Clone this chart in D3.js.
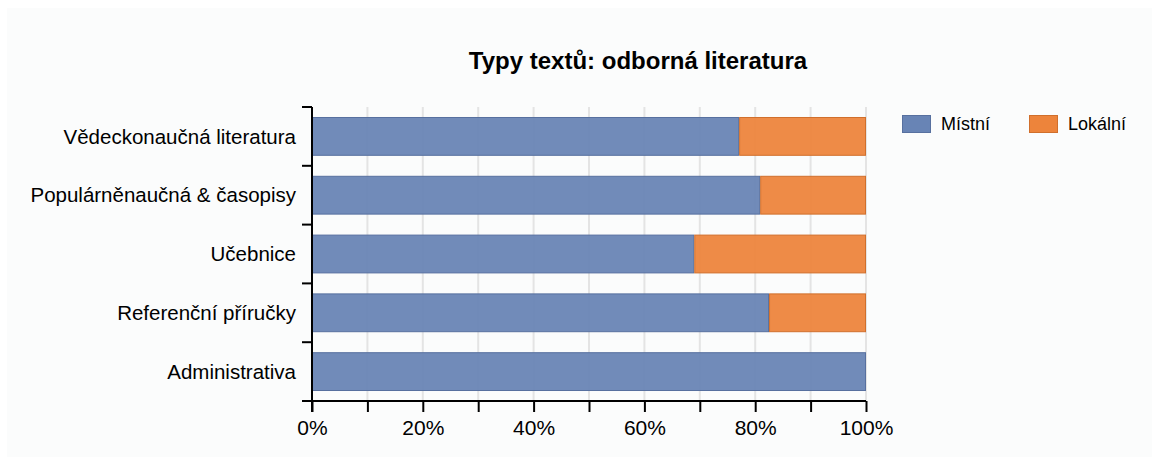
<!DOCTYPE html>
<html>
<head>
<meta charset="utf-8">
<script src="https://cdn.jsdelivr.net/npm/d3@7"></script>
<style>
  html, body { margin: 0; padding: 0; background: #ffffff; }
  svg { display: block; }
  text { font-family: "Liberation Sans", Arial, sans-serif; fill: #000; }
</style>
</head>
<body>
<svg id="chart" width="1152" height="457"></svg>
<script>
const title = "Typy textů: odborná literatura";
const categories = ["Vědeckonaučná literatura", "Populárněnaučná & časopisy", "Učebnice", "Referenční příručky", "Administrativa"];
const seriesNames = ["Místní", "Lokální"];
const mistni = [77.1, 80.9, 69.0, 82.5, 100];
const lokalni = [22.9, 19.1, 31.0, 17.5, 0];
const xTicks = [0, 10, 20, 30, 40, 50, 60, 70, 80, 90, 100];
const xTickLabels = [0, 20, 40, 60, 80, 100];
const colors = ["#6884b5", "#ed843b"];
const strokes = ["#57709f", "#d06f2c"];

const svg = d3.select("#chart");
svg.append("rect").attr("x", 7).attr("y", 8).attr("width", 1145).attr("height", 449).attr("fill", "#fbfcfc");

const margin = { left: 312, right: 866, top: 107, bottom: 401 };
const x = d3.scaleLinear().domain([0, 100]).range([margin.left, margin.right]);
const y = d3.scaleBand().domain(categories).range([margin.top, margin.bottom]).paddingInner(0.34).paddingOuter(0.17);

// gridlines
svg.append("g").selectAll("line").data(xTicks.slice(1)).join("line")
  .attr("x1", d => x(d)).attr("x2", d => x(d))
  .attr("y1", margin.top).attr("y2", margin.bottom)
  .attr("stroke", "#e4e4e4").attr("stroke-width", 2);

// stacked data
const rows = categories.map((c, i) => ({ cat: c, "Místní": mistni[i], "Lokální": lokalni[i] }));
const stacked = d3.stack().keys(seriesNames)(rows);

svg.append("g").selectAll("g").data(stacked).join("g")
  .attr("fill", (d, i) => colors[i])
  .attr("stroke", (d, i) => strokes[i])
  .selectAll("rect").data(d => d.filter(s => s[1] - s[0] > 0)).join("rect")
  .attr("x", d => x(d[0]) + 0.5)
  .attr("y", d => y(d.data.cat) + 0.5)
  .attr("width", d => x(d[1]) - x(d[0]) - 1)
  .attr("height", y.bandwidth() - 1)
  .attr("fill-opacity", 0.94)
  .attr("stroke-width", 1);

// y axis with ticks at band boundaries
const bounds = d3.range(categories.length + 1).map(i => margin.top + i * y.step());
const yAxisG = svg.append("g");
yAxisG.append("line").attr("x1", margin.left).attr("x2", margin.left)
  .attr("y1", margin.top).attr("y2", margin.bottom + 11).attr("stroke", "#000").attr("stroke-width", 2);
yAxisG.selectAll("line.t").data(bounds).join("line").attr("class", "t")
  .attr("x1", margin.left - 10).attr("x2", margin.left)
  .attr("y1", d => d).attr("y2", d => d).attr("stroke", "#000").attr("stroke-width", 2);
yAxisG.selectAll("text").data(categories).join("text")
  .attr("x", margin.left - 16)
  .attr("y", d => y(d) + y.bandwidth() / 2)
  .attr("dy", "0.35em")
  .attr("text-anchor", "end")
  .attr("font-size", 20.5)
  .text(d => d);

// x axis
const xAxis = d3.axisBottom(x).tickValues(xTicks).tickSize(11).tickPadding(8)
  .tickFormat(d => xTickLabels.includes(d) ? d + "%" : "");
const xg = svg.append("g").attr("transform", `translate(0,${margin.bottom})`).call(xAxis);
xg.select(".domain").attr("stroke", "#000").attr("stroke-width", 2).attr("d", `M${margin.left - 10},0H${margin.right}`);
xg.selectAll(".tick line").attr("stroke", "#000").attr("stroke-width", 2);
xg.selectAll(".tick text").attr("font-size", 21).attr("fill", "#000")
  .attr("font-family", '"Liberation Sans", Arial, sans-serif');

// title
svg.append("text").attr("x", 638).attr("y", 69).attr("text-anchor", "middle")
  .attr("font-size", 24).attr("font-weight", "bold").text(title);

// legend
const legendX = [902, 1029];
const legend = svg.append("g").selectAll("g").data(seriesNames).join("g")
  .attr("transform", (d, i) => `translate(${legendX[i]},115)`);
legend.append("rect").attr("x", 0.5).attr("y", 0.5).attr("width", 28).attr("height", 17)
  .attr("fill", (d, i) => colors[i]).attr("stroke", (d, i) => strokes[i]);
legend.append("text").attr("x", 39).attr("y", 15).attr("font-size", 18).text(d => d);
</script>
</body>
</html>
